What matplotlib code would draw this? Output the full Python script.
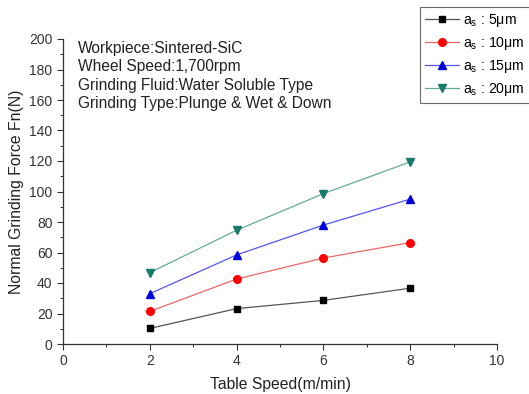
import matplotlib
matplotlib.use("Agg")
import matplotlib.pyplot as plt
from matplotlib.ticker import MultipleLocator

plt.rcParams['font.family'] = ['Liberation Sans', 'DejaVu Sans']

speed = [2, 4, 6, 8]
f_5 = [10.2, 23.2, 28.6, 36.6]
f_10 = [21.4, 42.6, 56.4, 66.5]
f_15 = [33.0, 58.4, 78.0, 95.0]
f_20 = [46.8, 74.6, 98.6, 119.4]
labels = ['a$_\\mathregular{s}$ : 5\u03bcm', 'a$_\\mathregular{s}$ : 10\u03bcm',
          'a$_\\mathregular{s}$ : 15\u03bcm', 'a$_\\mathregular{s}$ : 20\u03bcm']

fig = plt.figure(figsize=(5.29, 3.94), dpi=100)
ax = fig.add_axes([63/529, 50/394, 434/529, 305/394])

series = [
    (f_5, 's', '#000000', '#555555', labels[0], 5),
    (f_10, 'o', '#ff0000', '#ee6666', labels[1], 5.5),
    (f_15, '^', '#0000dd', '#5555ee', labels[2], 6),
    (f_20, 'v', '#1a7a6a', '#66aa99', labels[3], 6),
]
for vals, m, mc, lc, lab, ms in series:
    ax.plot(speed, vals, color=lc, lw=0.9, marker=m, markersize=ms,
            markerfacecolor=mc, markeredgecolor=mc, label=lab)

ax.set_xlim(0, 10)
ax.set_ylim(0, 200)
ax.xaxis.set_major_locator(MultipleLocator(2))
ax.xaxis.set_minor_locator(MultipleLocator(1))
ax.yaxis.set_major_locator(MultipleLocator(20))
ax.yaxis.set_minor_locator(MultipleLocator(10))
for s in ['top', 'right']:
    ax.spines[s].set_visible(False)
for s in ['left', 'bottom']:
    ax.spines[s].set_color('#333333')
    ax.spines[s].set_linewidth(0.9)
ax.tick_params(which='major', direction='out', length=4, width=0.8, colors='#333333', labelsize=10)
ax.tick_params(which='minor', direction='out', length=2.5, width=0.7, colors='#333333')
ax.set_xlabel('Table Speed(m/min)', fontsize=11.3, color='#222222', labelpad=6)
ax.set_ylabel('Normal Grinding Force Fn(N)', fontsize=11.3, color='#222222', labelpad=4)

ax.text(15/434, (344-41)/305, 'Workpiece:Sintered-SiC\nWheel Speed:1,700rpm\nGrinding Fluid:Water Soluble Type\nGrinding Type:Plunge & Wet & Down',
        transform=ax.transAxes, va='top', ha='left', fontsize=11.2, color='#222222', linespacing=1.28)

leg = fig.legend(loc='upper left', bbox_to_anchor=(420/529, 1 - 7/394), fontsize=10.2,
                 frameon=True, fancybox=False, edgecolor='#444444', handlelength=2.4,
                 borderpad=0.35, labelspacing=0.42, handletextpad=0.3, borderaxespad=0)
leg.get_frame().set_linewidth(0.8)

fig.savefig('out.png', dpi=100)
